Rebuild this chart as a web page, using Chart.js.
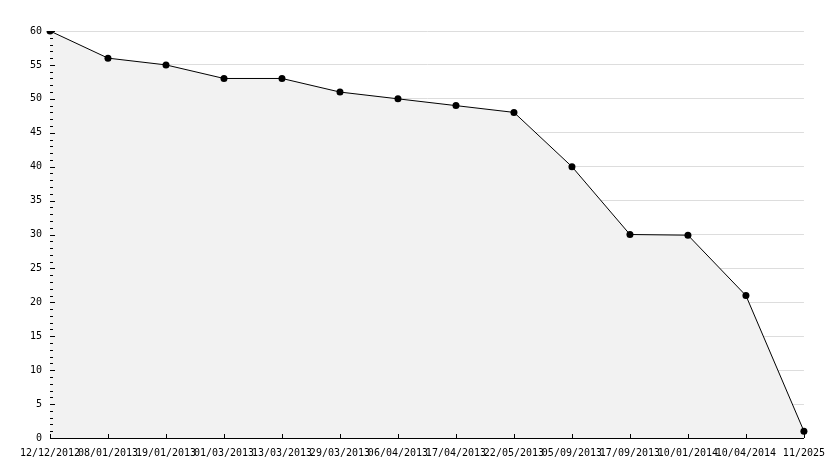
<!DOCTYPE html>
<html><head><meta charset="utf-8">
<script src="https://cdn.jsdelivr.net/npm/chart.js@4"></script>
<style>html,body{margin:0;padding:0;background:#fff;}#wrap{width:834px;height:468px;}</style>
</head><body><div id="wrap"><canvas id="c" width="834" height="468"></canvas></div>
<script>
const categories = ["12/12/2012","08/01/2013","19/01/2013","01/03/2013","13/03/2013","29/03/2013","06/04/2013","17/04/2013","22/05/2013","05/09/2013","17/09/2013","10/01/2014","10/04/2014","11/2025"];
const values = [60, 56, 55, 53, 53, 51, 50, 49, 48, 40, 30, 29.9, 21, 1];
const yTicks = [0,5,10,15,20,25,30,35,40,45,50,55,60];

const tickPlugin = {
  id: 'insideTicks',
  afterDraw(chart) {
    const ctx = chart.ctx, y = chart.scales.y, x = chart.scales.x;
    const a = chart.chartArea;
    ctx.save();
    ctx.strokeStyle = '#000';
    ctx.lineWidth = 1;
    ctx.beginPath();
    for (let v = 0; v <= 60; v++) {
      const py = Math.round(y.getPixelForValue(v)) + 0.5;
      const len = (v % 5 === 0) ? 5 : 3;
      ctx.moveTo(a.left, py); ctx.lineTo(a.left + len, py);
    }
    for (let i = 0; i < categories.length; i++) {
      const px = Math.round(x.getPixelForValue(i)) + 0.5;
      ctx.moveTo(px, a.bottom); ctx.lineTo(px, a.bottom - 4);
    }
    ctx.stroke();
    ctx.restore();
  }
};

new Chart(document.getElementById('c'), {
  type: 'line',
  data: {
    labels: categories,
    datasets: [{
      data: values,
      borderColor: '#000',
      borderWidth: 1,
      backgroundColor: '#f2f2f2',
      fill: 'origin',
      tension: 0,
      pointRadius: 3.5,
      pointBackgroundColor: '#000',
      pointBorderColor: '#000',
      pointBorderWidth: 0
    }]
  },
  options: {
    responsive: false,
    animation: false,
    devicePixelRatio: 1,
    layout: { padding: { top: 31, right: 29, left: 0, bottom: 0 } },
    plugins: { legend: { display: false }, tooltip: { enabled: false } },
    scales: {
      x: {
        offset: false,
        grid: { display: false, drawTicks: false },
        border: { display: true, color: '#000', width: 1 },
        ticks: { autoSkip: false, maxRotation: 0, minRotation: 0, padding: 9, color: '#000', font: { family: 'DejaVu Sans Mono', size: 10 } },
        afterFit(s) { s.height = 30; }
      },
      y: {
        min: 0, max: 60,
        afterBuildTicks(s) { s.ticks = yTicks.map(v => ({ value: v })); },
        grid: { color: '#dddddd', drawTicks: false },
        border: { display: true, color: '#000', width: 1 },
        ticks: { padding: 8, color: '#000', font: { family: 'DejaVu Sans Mono', size: 10 } },
        afterFit(s) { s.width = 50; }
      }
    }
  },
  plugins: [tickPlugin]
});
</script></body></html>
